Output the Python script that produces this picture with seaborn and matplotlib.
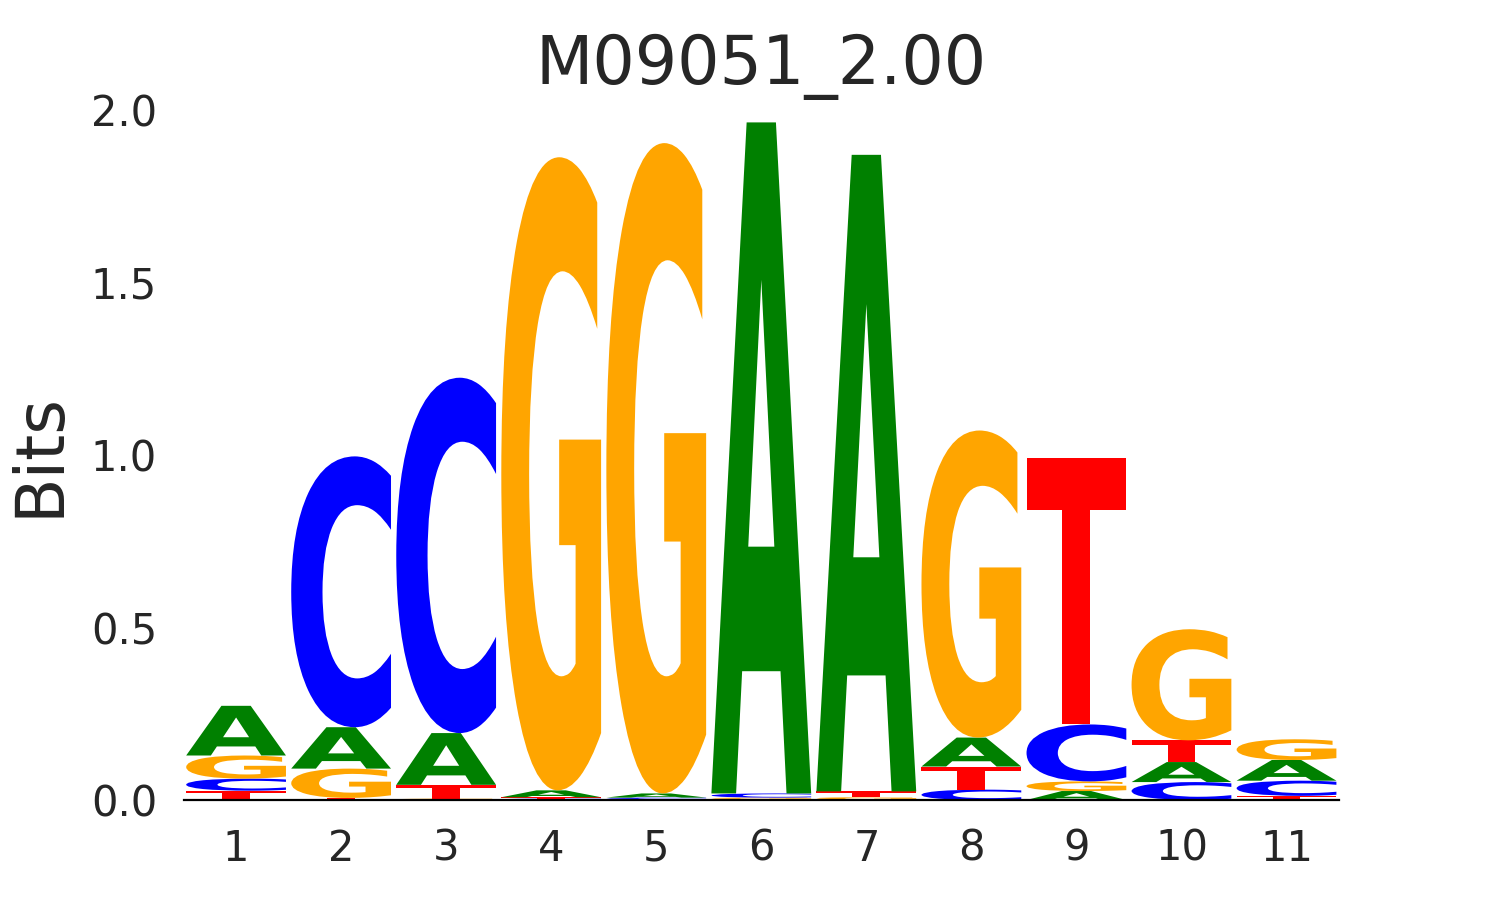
import matplotlib
matplotlib.use("Agg")
import matplotlib.pyplot as plt
import seaborn as sns
from matplotlib.textpath import TextPath
from matplotlib.patches import PathPatch
from matplotlib.font_manager import FontProperties
from matplotlib.transforms import Affine2D

# ---- data (information content in bits per letter, per position) ----
positions = [1, 2, 3, 4, 5, 6, 7, 8, 9, 10, 11]
A = [0.144, 0.120, 0.150, 0.020, 0.012, 1.945, 1.845, 0.084, 0.026, 0.058, 0.060]
C = [0.035, 0.785, 1.030, 0.004, 0.004, 0.012, 0.002, 0.030, 0.165, 0.052, 0.044]
G = [0.067, 0.085, 0.004, 1.835, 1.885, 0.004, 0.006, 0.890, 0.028, 0.322, 0.060]
T = [0.027, 0.006, 0.040, 0.004, 0.003, 0.003, 0.017, 0.067, 0.772, 0.063, 0.012]
yticks = [0.0, 0.5, 1.0, 1.5, 2.0]
title = "M09051_2.00"

colors = {"A": "#008000", "C": "#0000ff", "G": "#ffa500", "T": "#ff0000"}
letter_data = {"A": A, "C": C, "G": G, "T": T}

sns.set_theme(style="white")
plt.rcParams["font.family"] = ["DejaVu Sans"]

fig = plt.figure(figsize=(14.85, 9), dpi=100)
ax = fig.add_axes([0.1236, 0.1111, 0.7781, 0.7667])

prop = FontProperties(family="DejaVu Sans", weight="bold")
width = 0.95
for i, pos in enumerate(positions):
    heights = {L: letter_data[L][i] for L in "ACGT"}
    order = sorted(heights, key=heights.get)
    y = 0.0
    for L in order:
        h = heights[L]
        path = TextPath((0, 0), L, size=1, prop=prop)
        bb = path.get_extents()
        tr = (Affine2D()
              .translate(-bb.x0, -bb.y0)
              .scale(width / bb.width, h / bb.height)
              .translate(pos - width / 2, y))
        patch = PathPatch(tr.transform_path(path), facecolor=colors[L],
                          edgecolor="none", lw=0)
        ax.add_patch(patch)
        y += h

ax.set_xlim(0.5, 11.5)
ax.set_ylim(0, 2.0)
ax.set_xticks(positions)
ax.set_xticklabels([str(p) for p in positions])
ax.set_yticks(yticks)
ax.set_yticklabels([f"{v:.1f}" for v in yticks])
sns.despine(ax=ax, left=True, top=True, right=True)
ax.spines["bottom"].set_color("black")
ax.spines["bottom"].set_linewidth(1.6)
ax.tick_params(axis="both", length=0, labelsize=30, colors="#262626")
ax.tick_params(axis="x", pad=20)
ax.tick_params(axis="y", pad=19)
ax.set_ylabel("Bits", fontsize=48, color="#262626", labelpad=13)
ax.set_title(title, fontsize=48, color="#262626", pad=19)

fig.savefig("out.png", dpi=100)
